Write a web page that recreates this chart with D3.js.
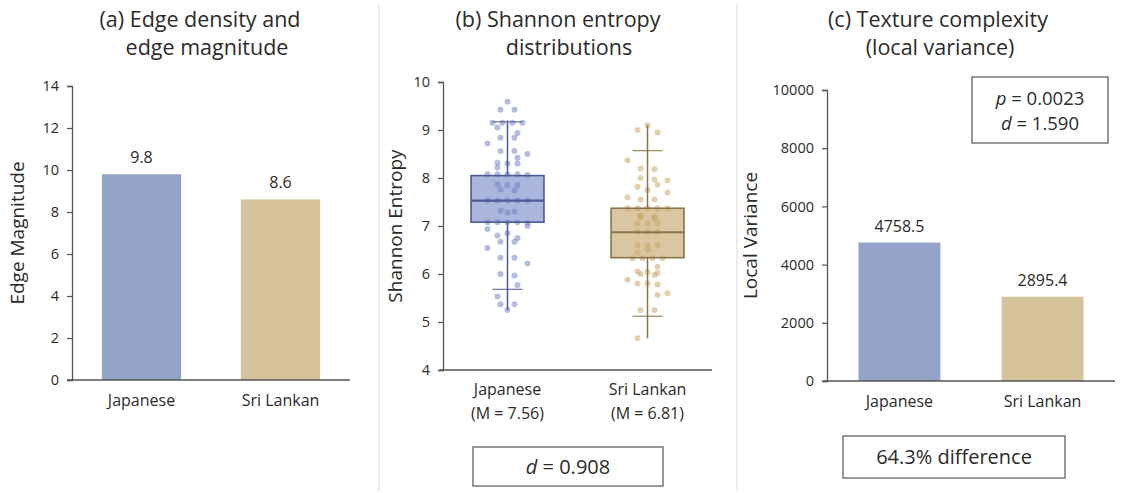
<!DOCTYPE html>
<html>
<head>
<meta charset="utf-8">
<script src="https://cdn.jsdelivr.net/npm/d3@7"></script>
<style>
  body { margin: 0; background: #fff; }
  text { font-family: "Open Sans", Lato, sans-serif; fill: #2b2b2b; font-weight: 500; }
</style>
</head>
<body>
<svg id="chart" width="1137" height="493"></svg>
<script>
// ---- data ----
const groups = ["Japanese", "Sri Lankan"];

// (a) edge magnitude
const edgeMagnitude = [9.8, 8.6];
const edgeTicks = [0, 2, 4, 6, 8, 10, 12, 14];

// (b) Shannon entropy
const entropyMeans = [7.56, 6.81];
const entropyQ1 = [7.08, 6.34];
const entropyMedian = [7.53, 6.87];
const entropyQ3 = [8.05, 7.37];
const entropyCapLow = [5.68, 5.12];
const entropyCapHigh = [9.17, 8.57];
const entropyLineLow = [5.25, 4.66];
const entropyLineHigh = [9.20, 9.10];
const entropyTicks = [4, 5, 6, 7, 8, 9, 10];
const entropyD = 0.908;

const japaneseEntropy = [
  9.59, 9.42, 9.42, 9.15, 9.15, 9.15, 9.15, 9.05, 8.94, 8.84, 8.84, 8.72,
  8.56, 8.56, 8.50, 8.42, 8.32, 8.30, 8.30, 8.22, 8.08, 8.08, 8.08, 8.08,
  8.06, 7.87, 7.85, 7.85, 7.76, 7.74, 7.53, 7.53, 7.53, 7.53, 7.53, 7.32,
  7.30, 7.28, 7.08, 7.08, 7.08, 7.08, 7.06, 7.00, 6.94, 6.85, 6.80, 6.75,
  6.67, 6.67, 6.54, 6.34, 6.34, 6.22, 6.00, 5.97, 5.77, 5.53, 5.37, 5.37,
  5.25
];
const sriLankanEntropy = [
  9.10, 9.00, 8.95, 8.37, 8.20, 8.18, 8.00, 7.97, 7.95, 7.86, 7.82, 7.75,
  7.70, 7.60, 7.55, 7.55, 7.37, 7.37, 7.37, 7.37, 7.37, 7.22, 7.20, 7.18,
  7.15, 7.05, 7.05, 7.05, 6.88, 6.88, 6.88, 6.60, 6.60, 6.60, 6.50, 6.45,
  6.33, 6.33, 6.33, 6.33, 6.15, 6.05, 6.04, 6.02, 6.00, 5.98, 5.88, 5.80,
  5.80, 5.78, 5.60, 5.56, 5.25, 5.25, 4.66
];

// (c) local variance
const localVariance = [4758.5, 2895.4];
const varianceTicks = [0, 2000, 4000, 6000, 8000, 10000];
const varianceP = 0.0023;
const varianceD = 1.590;
const variancePctDiff = 64.3;

// ---- styling ----
const barColors = ["#93a3c9", "#d5c39c"];
const boxFill = ["#abb6dd", "#dac7a1"];
const boxStroke = ["#4b5a94", "#8b7448"];
const dotColor = ["#6b7cc0", "#c7a25e"];
const axisColor = "#555";

const svg = d3.select("#chart");
svg.append("rect").attr("width", 1137).attr("height", 493).attr("fill", "#fff");

// panel separators
[379, 737].forEach(x => {
  svg.append("line").attr("x1", x).attr("x2", x).attr("y1", 4).attr("y2", 491)
    .attr("stroke", "#e2e2e2").attr("stroke-width", 1.2);
});

function title(lines, cx) {
  lines.forEach((t, i) => {
    svg.append("text").attr("x", cx[i]).attr("y", 27 + i * 28)
      .attr("text-anchor", "middle").attr("font-size", 21.5).text(t);
  });
}

function yAxis(scale, x, ticks, fmt, label, labelX) {
  const g = svg.append("g").attr("transform", `translate(${x},0)`)
    .call(d3.axisLeft(scale).tickValues(ticks).tickFormat(fmt)
      .tickSize(5).tickSizeOuter(5).tickPadding(8));
  g.select(".domain").attr("stroke", axisColor).attr("stroke-width", 1.3);
  g.selectAll(".tick line").attr("stroke", axisColor).attr("stroke-width", 1.2);
  g.selectAll(".tick text").attr("font-size", 14.5).attr("fill", "#2b2b2b")
    .style("font-family", "'Open Sans', Lato, sans-serif").style("font-weight", 500);
  const [r0, r1] = scale.range();
  svg.append("text")
    .attr("transform", `translate(${labelX},${(r0 + r1) / 2}) rotate(-90)`)
    .attr("text-anchor", "middle").attr("font-size", 19).text(label);
}

function xAxisLine(x0, x1, y) {
  svg.append("line").attr("x1", x0).attr("x2", x1).attr("y1", y).attr("y2", y)
    .attr("stroke", axisColor).attr("stroke-width", 1.3);
}

function frame(x, y, w, h) {
  svg.append("rect").attr("x", x).attr("y", y).attr("width", w).attr("height", h)
    .attr("fill", "#fff").attr("stroke", "#555").attr("stroke-width", 1.2);
}

// ---- (a) Edge magnitude ----
{
  const x = d3.scaleBand().domain(groups).range([72, 350]).paddingInner(0.43).paddingOuter(0.215);
  const y = d3.scaleLinear().domain([0, 14]).range([380, 86]);
  title(["(a) Edge density and", "edge magnitude"], [200, 207]);
  svg.selectAll(".barA").data(groups).join("rect")
    .attr("x", d => x(d)).attr("width", x.bandwidth())
    .attr("y", (d, i) => y(edgeMagnitude[i]))
    .attr("height", (d, i) => y(0) - y(edgeMagnitude[i]))
    .attr("fill", (d, i) => barColors[i]);
  svg.selectAll(".valA").data(groups).join("text")
    .attr("x", d => x(d) + x.bandwidth() / 2)
    .attr("y", (d, i) => y(edgeMagnitude[i]) - 11)
    .attr("text-anchor", "middle").attr("font-size", 16)
    .text((d, i) => d3.format(".1f")(edgeMagnitude[i]));
  svg.selectAll(".catA").data(groups).join("text")
    .attr("x", d => x(d) + x.bandwidth() / 2).attr("y", 406)
    .attr("text-anchor", "middle").attr("font-size", 16).text(d => d);
  xAxisLine(67, 350, 380);
  yAxis(y, 72, edgeTicks, d3.format("d"), "Edge Magnitude", 24);
}

// ---- (b) Shannon entropy ----
{
  const x = d3.scaleBand().domain(groups).range([443, 712]).paddingInner(0.479).paddingOuter(0.2);
  const y = d3.scaleLinear().domain([4, 10]).range([370, 82]);
  title(["(b) Shannon entropy", "distributions"], [558, 569]);
  const samples = [japaneseEntropy, sriLankanEntropy];

  // spread near-equal values across a row, scatter single values
  function jitter(values) {
    const idx = values.map((v, i) => i).sort((a, b) => values[b] - values[a]);
    const off = new Array(values.length).fill(0);
    const cycle = [0, -1, 1, -2, 2, 1, -1, 0, 2, -2];
    let i = 0, single = 0;
    while (i < idx.length) {
      let j = i;
      while (j + 1 < idx.length && values[idx[i]] - values[idx[j + 1]] < 0.035) j++;
      const n = j - i + 1;
      for (let k = 0; k < n; k++) {
        off[idx[i + k]] = n === 1 ? cycle[(single++) % cycle.length] * 10
                                  : (k - (n - 1) / 2) * (n === 2 ? 14 : 10);
      }
      i = j + 1;
    }
    return off;
  }

  groups.forEach((g, gi) => {
    const cx = x(g) + x.bandwidth() / 2;
    const bw = x.bandwidth();
    svg.append("rect").attr("x", x(g)).attr("width", bw)
      .attr("y", y(entropyQ3[gi])).attr("height", y(entropyQ1[gi]) - y(entropyQ3[gi]))
      .attr("fill", boxFill[gi]);
    const offs = jitter(samples[gi]);
    svg.append("g").selectAll("circle").data(samples[gi]).join("circle")
      .attr("cx", (d, i) => cx + offs[i]).attr("cy", d => y(d)).attr("r", 3)
      .attr("fill", dotColor[gi]).attr("fill-opacity", 0.5);
    svg.append("rect").attr("x", x(g)).attr("width", bw)
      .attr("y", y(entropyQ3[gi])).attr("height", y(entropyQ1[gi]) - y(entropyQ3[gi]))
      .attr("fill", "none").attr("stroke", boxStroke[gi]).attr("stroke-width", 1.6);
    // whisker line
    svg.append("line").attr("x1", cx).attr("x2", cx)
      .attr("y1", y(entropyLineHigh[gi])).attr("y2", y(entropyQ3[gi]))
      .attr("stroke", boxStroke[gi]).attr("stroke-width", 1.5);
    svg.append("line").attr("x1", cx).attr("x2", cx)
      .attr("y1", y(entropyQ1[gi])).attr("y2", y(entropyLineLow[gi]))
      .attr("stroke", boxStroke[gi]).attr("stroke-width", 1.5);
    [entropyCapLow[gi], entropyCapHigh[gi]].forEach(v => {
      svg.append("line").attr("x1", cx - 15).attr("x2", cx + 15)
        .attr("y1", y(v)).attr("y2", y(v))
        .attr("stroke", boxStroke[gi]).attr("stroke-width", 1.3).attr("stroke-opacity", 0.8);
    });
    svg.append("line").attr("x1", x(g)).attr("x2", x(g) + bw)
      .attr("y1", y(entropyMedian[gi])).attr("y2", y(entropyMedian[gi]))
      .attr("stroke", boxStroke[gi]).attr("stroke-width", 2.2);
    svg.append("text").attr("x", cx).attr("y", 395).attr("text-anchor", "middle")
      .attr("font-size", 16).text(g);
    svg.append("text").attr("x", cx).attr("y", 419).attr("text-anchor", "middle")
      .attr("font-size", 16).text(`(M = ${d3.format(".2f")(entropyMeans[gi])})`);
  });
  xAxisLine(440, 712, 370);
  yAxis(y, 443, entropyTicks, d3.format("d"), "Shannon Entropy", 402);

  frame(473, 447, 190, 39);
  const t = svg.append("text").attr("x", 568).attr("y", 474)
    .attr("text-anchor", "middle").attr("font-size", 20);
  t.append("tspan").attr("font-style", "italic").text("d");
  t.append("tspan").text(` = ${d3.format(".3f")(entropyD)}`);
}

// ---- (c) Local variance ----
{
  const x = d3.scaleBand().domain(groups).range([827, 1115]).paddingInner(0.427).paddingOuter(0.22);
  const y = d3.scaleLinear().domain([0, 10000]).range([381, 90]);
  title(["(c) Texture complexity", "(local variance)"], [938, 940]);
  svg.selectAll(".barC").data(groups).join("rect")
    .attr("x", d => x(d)).attr("width", x.bandwidth())
    .attr("y", (d, i) => y(localVariance[i]))
    .attr("height", (d, i) => y(0) - y(localVariance[i]))
    .attr("fill", (d, i) => barColors[i]);
  svg.selectAll(".valC").data(groups).join("text")
    .attr("x", d => x(d) + x.bandwidth() / 2)
    .attr("y", (d, i) => y(localVariance[i]) - 11)
    .attr("text-anchor", "middle").attr("font-size", 16)
    .text((d, i) => d3.format(".1f")(localVariance[i]));
  svg.selectAll(".catC").data(groups).join("text")
    .attr("x", d => x(d) + x.bandwidth() / 2).attr("y", 407)
    .attr("text-anchor", "middle").attr("font-size", 16).text(d => d);
  xAxisLine(823, 1115, 381);
  yAxis(y, 827, varianceTicks, d3.format("d"), "Local Variance", 757);

  frame(972, 77, 136, 66);
  const t1 = svg.append("text").attr("x", 1040).attr("y", 105)
    .attr("text-anchor", "middle").attr("font-size", 18.5);
  t1.append("tspan").attr("font-style", "italic").text("p");
  t1.append("tspan").text(` = ${d3.format(".4f")(varianceP)}`);
  const t2 = svg.append("text").attr("x", 1040).attr("y", 130)
    .attr("text-anchor", "middle").attr("font-size", 18.5);
  t2.append("tspan").attr("font-style", "italic").text("d");
  t2.append("tspan").text(` = ${d3.format(".3f")(varianceD)}`);

  frame(843, 436, 222, 42);
  svg.append("text").attr("x", 954).attr("y", 464).attr("text-anchor", "middle")
    .attr("font-size", 20).text(`${variancePctDiff}% difference`);
}
</script>
</body>
</html>
